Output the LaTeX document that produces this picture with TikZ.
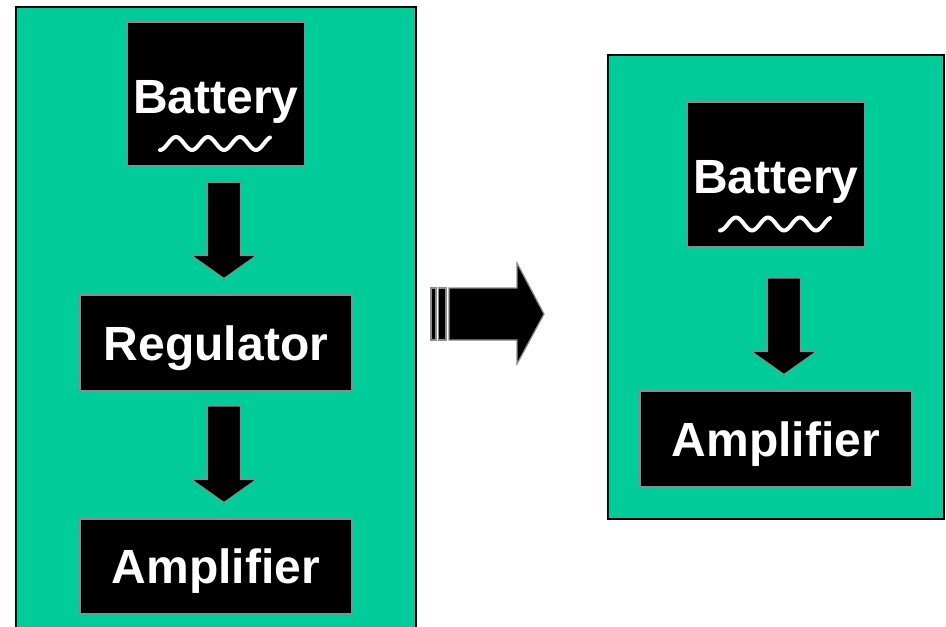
\documentclass[tikz,border=0pt]{standalone}
\usepackage{fontspec}
\setmainfont{Liberation Sans}
\usetikzlibrary{calc}
\definecolor{PanelGreen}{HTML}{00CC99}
\definecolor{EdgeGrey}{HTML}{8C8C8C}

\begin{document}
\begin{tikzpicture}[x=1pt,y=-1pt,line join=miter,
  panel/.style={fill=PanelGreen,draw=black,line width=2pt},
  block/.style={fill=black,draw=EdgeGrey,line width=1.5pt,inner sep=0pt,outer sep=0pt},
  label/.style={text=white,inner sep=0pt,font=\bfseries\fontsize{48}{52}\selectfont,
    text height=34pt,text depth=0pt},
  flow/.style={fill=black,draw=EdgeGrey,line width=1.2pt},
  wave/.style={white,line width=4pt,line cap=round,line join=round}]

% page size (1 unit = 1 px of the original slide, y pointing down)
\useasboundingbox (0,0) rectangle (946,627);
\clip (0,0) rectangle (946,627);

% Arrow geometry
\def\shaft{16.5}
\def\head{32.5}
\def\headlen{23}
\def\offs{8}

% ---- PANELS ----
\draw[panel] (16,7) rectangle (416,660);
\draw[panel] (608,55) rectangle (944,519);

% ---- BLOCKS, before ----
\node[block,minimum width=177pt,minimum height=144pt] (bat1) at (216,94) {};
\node[block,minimum width=272pt,minimum height=96pt] (reg) at (216,343) {};
\node[block,minimum width=272pt,minimum height=95pt] (amp1) at (216,566.5) {};

% ---- BLOCKS, after ----
\node[block,minimum width=177pt,minimum height=145pt] (bat2) at (776,174.5) {};
\node[block,minimum width=272pt,minimum height=96pt] (amp2) at (776,439) {};

% Labels
\node[label] (bat1txt) at ($(bat1.center)+(0,2)$) {Battery};
\node[label] (regtxt) at (reg.center) {Regulator};
\node[label] (amp1txt) at (amp1.center) {Amplifier};
\node[label] (bat2txt) at ($(bat2.center)+(0,2)$) {Battery};
\node[label] (amp2txt) at (amp2.center) {Amplifier};

% Battery waves
\foreach \b in {bat1,bat2}{
  \begin{scope}[shift={(\b.center)}]
    \draw[wave] plot[domain=-56:54,samples=80,smooth]
      (\x,{49.5+6.5*cos((\x+56)*11.25)});
  \end{scope}
}

% ---- FLOW ARROWS ----
\foreach \a/\b/\gap in {bat1/reg/16.5,reg/amp1/15,bat2/amp2/31}{
  \coordinate (top) at ($(\a.south)+(\offs,\gap)$);
  \coordinate (tip) at ($(\b.north)+(\offs,-16.5)$);
  \draw[flow] ($(top)+(-\shaft,0)$) -- ($(top)+(\shaft,0)$)
    -- ($(tip)+(\shaft,-\headlen)$) -- ($(tip)+(\head,-\headlen)$)
    -- (tip) -- ($(tip)+(-\head,-\headlen)$)
    -- ($(tip)+(-\shaft,-\headlen)$) -- cycle;
}

% ---- BEFORE -> AFTER ----
\draw[flow] (431,288) rectangle (436,340);
\draw[flow] (438.5,288) rectangle (446,340);
\draw[flow] (449,288) -- (517,288) -- (517,263) -- (544,314)
  -- (517,364) -- (517,340) -- (449,340) -- cycle;

\end{tikzpicture}
\end{document}
